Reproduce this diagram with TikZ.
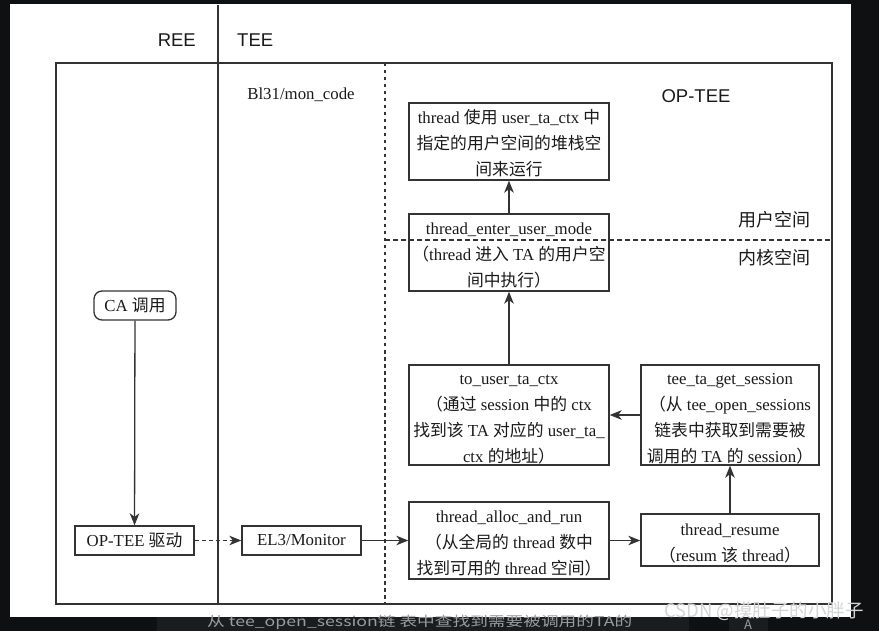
\documentclass[tikz,border=0pt]{standalone}
\usepackage{fontspec}
\setmainfont{Liberation Serif}
\newfontfamily\cjk{Noto Sans CJK SC}
\newfontfamily\lsans{Liberation Sans}
\usetikzlibrary{arrows.meta}
\newcommand\zh[1]{{\cjk #1}}
\newcommand\topstrut{\rule{0pt}{18pt}}
\definecolor{bgdark}{HTML}{0F1012}
\definecolor{bgband}{HTML}{1B1C1F}
\definecolor{linec}{HTML}{333333}
\definecolor{textc}{HTML}{1A1A1A}
\definecolor{subc}{HTML}{9C9C9C}
\definecolor{wmc}{HTML}{D4D4D4}
\tikzset{
  procbox/.style={draw=linec, line width=1.3pt, inner sep=0pt, align=center,
    minimum width=200pt, font=\fontsize{16.8}{26}\selectfont, text=textc},
  smallbox/.style={procbox, minimum width=119pt, minimum height=29pt},
  arr/.style={draw=linec, line width=1.3pt, -{Stealth[length=12pt,width=9.5pt,inset=3.5pt]}},
  darr/.style={arr, dash pattern=on 4pt off 3pt},
  frame/.style={draw=linec, line width=1.4pt},
  sanslbl/.style={font=\lsans\fontsize{18.5}{20}\selectfont, text=textc, inner sep=0pt},
  zhlbl/.style={font=\cjk\fontsize{18}{20}\selectfont, text=textc, inner sep=0pt}
}
\begin{document}
\begin{tikzpicture}[x=1pt,y=-1pt]
\useasboundingbox (0,0) rectangle (879,631);
% background
\fill[bgdark] (0,0) rectangle (879,631);
\fill[bgband] (157,617) rectangle (689,631);
\fill[bgband] (729,617) rectangle (768,631);
\fill[white] (10,4) rectangle (851,617);
% frame
\draw[frame] (56,63) rectangle (832,604);
\draw[frame] (218,5) -- (218,604);
\draw[linec, line width=1.3pt, dash pattern=on 3.5pt off 3.5pt] (385,63) -- (385,604);
\draw[linec, line width=1.2pt, dash pattern=on 5pt off 3pt] (385,240) -- (832,240);
% header labels
\node[sanslbl, anchor=east] (ree) at (196,40) {REE};
\node[sanslbl, anchor=west] (tee) at (237,40) {TEE};
\node[sanslbl] (optee) at (696,96) {OP-TEE};
\node[font=\fontsize{16.8}{20}\selectfont, text=textc, inner sep=0pt] (bl31) at (301,95) {Bl31/mon\_code};
\node[zhlbl] (user) at (774,220) {用户空间};
\node[zhlbl] (kern) at (774,258) {内核空间};
% boxes
\node[procbox, minimum height=77pt] (b1) at (509,141.5)
  {\topstrut thread \zh{使用} user\_ta\_ctx \zh{中}\\ \zh{指定的用户空间的堆栈空}\\ \zh{间来运行}};
\node[procbox, minimum height=77pt] (b2) at (509,252.5)
  {\topstrut thread\_enter\_user\_mode\\ \zh{（}thread \zh{进入} TA \zh{的用户空}\\ \zh{间中执行）}};
\node[procbox, minimum height=100pt] (b3) at (509,415)
  {\topstrut to\_user\_ta\_ctx\\ \zh{（通过} session \zh{中的} ctx\\ \zh{找到该} TA \zh{对应的} user\_ta\_\\ ctx \zh{的地址）}};
\node[procbox, minimum width=178pt, minimum height=100pt] (b4) at (730,415)
  {\topstrut tee\_ta\_get\_session\\ \zh{（从} tee\_open\_sessions\\ \zh{链表中获取到需要被}\\ \zh{调用的} TA \zh{的} session\zh{）}};
\node[procbox, minimum height=77pt] (b5) at (509,540.5)
  {\topstrut thread\_alloc\_and\_run\\ \zh{（从全局的} thread \zh{数中}\\ \zh{找到可用的} thread \zh{空间）}};
\node[procbox, minimum width=178pt, minimum height=52pt] (b6) at (730,540)
  {\topstrut thread\_resume\\ \zh{（}resum \zh{该} thread\zh{）}};
\node[procbox, minimum width=82pt, minimum height=29pt, rounded corners=8pt] (ca) at (135,305.5)
  {CA \zh{调用}};
\node[smallbox] (drv) at (134.5,540.5) {OP-TEE \zh{驱动}};
\node[smallbox] (el3) at (301.5,540.5) {EL3/Monitor};
% connectors
\draw[arr] (ca) -- (drv);
\draw[darr] (drv) -- (el3);
\draw[arr] (el3) -- (b5);
\draw[arr] (b5) -- (b6.west |- b5);
\draw[arr] (b6) -- (b4);
\draw[arr] (b4) -- (b3);
\draw[arr] (b3) -- (b2);
\draw[arr] (b2) -- (b1);
% overlay texts
\node[font=\cjk\fontsize{13.5}{14}\selectfont, text=subc, inner sep=0pt, anchor=west] (sub) at (207,622)
  {\scalebox{1.31}[1]{从 tee\_open\_session链 表中查找到需要被调用的TA的}};
\node[font=\cjk\fontsize{13}{14}\selectfont, text=subc, inner sep=0pt] (akey) at (748,625) {A};
\node[font=\cjk\fontsize{18.5}{20}\selectfont, text=wmc, inner sep=0pt, anchor=east] (wm) at (864,611)
  {CSDN @摸肚子的小胖子};
\end{tikzpicture}
\end{document}
